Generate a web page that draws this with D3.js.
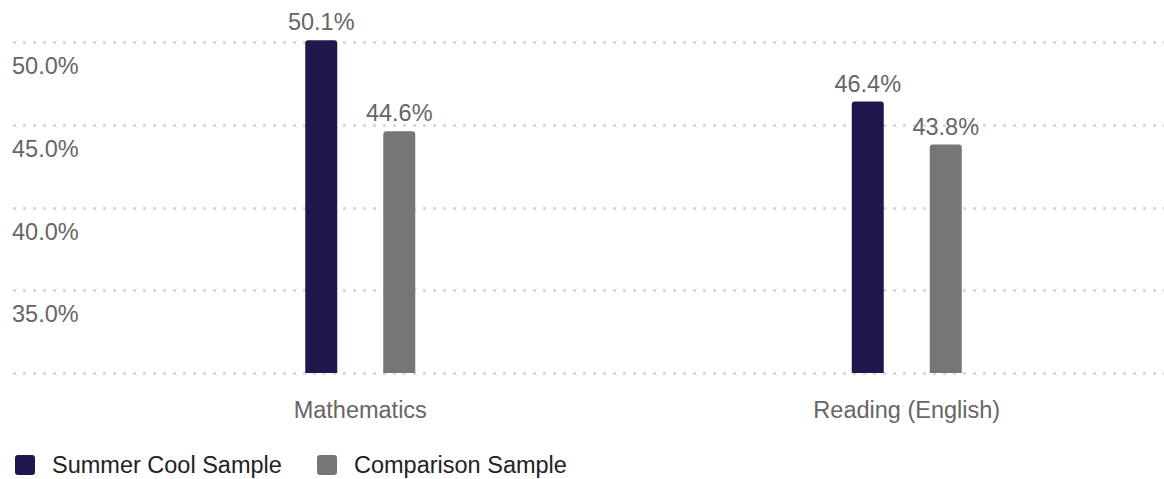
<!DOCTYPE html>
<html lang="en">
<head>
    <meta charset="utf-8">
    <style type="text/css">
        body { margin: 0; background: #fff; }
        svg text { font-family: "Liberation Sans", Arial, sans-serif; }
        .grid line { stroke: #d9d9d9; stroke-width: 3; stroke-dasharray: 3,7; }
        .tick-label, .cat-label, .val-label { fill: #666; font-size: 23.5px; }
        .legend text { fill: #222; font-size: 23.5px; }
    </style>
</head>
<body>
<svg width="1164" height="479"></svg>

<script src="https://cdn.jsdelivr.net/npm/d3@7"></script>
<script type="text/javascript">

    // data
    var categories = ["Mathematics", "Reading (English)"];
    var series = ["Summer Cool Sample", "Comparison Sample"];
    var summerValues = [50.1, 46.4];
    var comparisonValues = [44.6, 43.8];
    var gridValues = [30, 35, 40, 45, 50];
    var tickValues = [35, 40, 45, 50];
    var colors = ["#21174e", "#767676"];

    var svg = d3.select("svg"),
        width = +svg.attr("width"),
        height = +svg.attr("height");

    var y = d3.scaleLinear().domain([30, 50]).range([373, 42]);
    var x = d3.scaleBand().domain(categories).range([87, 1180]);
    var xInner = d3.scaleBand().domain(series).range([-78, 78]);
    var color = d3.scaleOrdinal().domain(series).range(colors);
    var barW = 32;

    // grid lines
    svg.append("g").attr("class", "grid")
        .selectAll("line")
        .data(gridValues)
        .enter().append("line")
        .attr("x1", 13)
        .attr("x2", width)
        .attr("y1", function (d) { return Math.round(y(d)) + 0.5; })
        .attr("y2", function (d) { return Math.round(y(d)) + 0.5; });

    // y tick labels sit below their line
    svg.append("g")
        .selectAll("text")
        .data(tickValues)
        .enter().append("text")
        .attr("class", "tick-label")
        .attr("x", 12)
        .attr("y", function (d) { return y(d) + 32; })
        .text(function (d) { return d3.format(".1f")(d) + "%"; });

    var rows = categories.map(function (c, i) {
        return [
            { cat: c, key: series[0], value: summerValues[i] },
            { cat: c, key: series[1], value: comparisonValues[i] }
        ];
    });

    var group = svg.selectAll(".group")
        .data(rows)
        .enter().append("g")
        .attr("class", "group")
        .attr("transform", function (d, i) {
            return "translate(" + (x(categories[i]) + x.bandwidth() / 2) + ",0)";
        });

    function barPath(d) {
        var cx = xInner(d.key) + xInner.bandwidth() / 2;
        var x0 = cx - barW / 2, x1 = cx + barW / 2;
        var top = y(d.value), bot = y(30), r = 3;
        return "M" + x0 + "," + bot +
            "V" + (top + r) +
            "Q" + x0 + "," + top + " " + (x0 + r) + "," + top +
            "H" + (x1 - r) +
            "Q" + x1 + "," + top + " " + x1 + "," + (top + r) +
            "V" + bot + "Z";
    }

    group.selectAll("path")
        .data(function (d) { return d; })
        .enter().append("path")
        .attr("d", barPath)
        .attr("fill", function (d) { return color(d.key); });

    group.selectAll(".val-label")
        .data(function (d) { return d; })
        .enter().append("text")
        .attr("class", "val-label")
        .attr("text-anchor", "middle")
        .attr("x", function (d) { return xInner(d.key) + xInner.bandwidth() / 2; })
        .attr("y", function (d) { return y(d.value) - 10; })
        .text(function (d) { return d3.format(".1f")(d.value) + "%"; });

    // category labels
    svg.append("g")
        .selectAll("text")
        .data(categories)
        .enter().append("text")
        .attr("class", "cat-label")
        .attr("text-anchor", "middle")
        .attr("x", function (d) { return x(d) + x.bandwidth() / 2; })
        .attr("y", 418)
        .text(function (d) { return d; });

    // legend
    var legendX = [15, 317];
    var legend = svg.append("g").attr("class", "legend")
        .selectAll("g")
        .data(series)
        .enter().append("g")
        .attr("transform", function (d, i) { return "translate(" + legendX[i] + ",455)"; });

    legend.append("rect")
        .attr("width", 20)
        .attr("height", 20)
        .attr("rx", 3)
        .attr("fill", function (d) { return color(d); });

    legend.append("text")
        .attr("x", 37)
        .attr("y", 18)
        .text(function (d) { return d; });

</script>
</body>
</html>
